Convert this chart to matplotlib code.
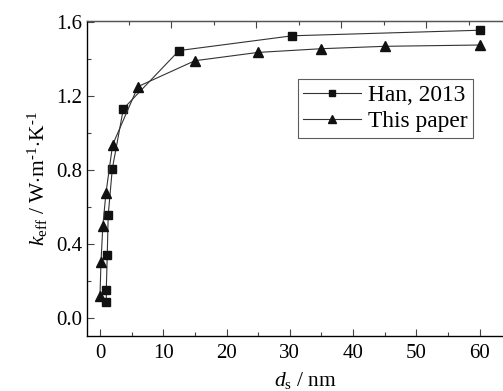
import matplotlib
matplotlib.use("Agg")
import matplotlib.pyplot as plt
from matplotlib.ticker import MultipleLocator, FormatStrFormatter

plt.rcParams["font.family"] = ["Liberation Serif", "DejaVu Serif"]
plt.rcParams["mathtext.fontset"] = "custom"
plt.rcParams["mathtext.rm"] = "Liberation Serif"
plt.rcParams["mathtext.it"] = "Liberation Serif:italic"

# Han, 2013
han_x = [1.0, 1.0, 1.15, 1.3, 1.95, 3.7, 12.5, 30.4, 60.0]
han_y = [0.083, 0.151, 0.337, 0.553, 0.805, 1.13, 1.445, 1.525, 1.555]

# This paper
paper_x = [0.0, 0.16, 0.45, 0.95, 2.0, 6.0, 15.0, 25.0, 35.0, 45.0, 60.0]
paper_y = [0.115, 0.30, 0.495, 0.675, 0.935, 1.25, 1.39, 1.435, 1.455, 1.468, 1.475]

fig = plt.figure(figsize=(5.03, 3.91), dpi=100)
ax = fig.add_axes([87 / 503, 55 / 391, 1 - 87 / 503, 315 / 391])

ax.plot(han_x, han_y, color="#333333", lw=0.8, marker="s", ms=5.5,
        mfc="#111111", mec="#111111", label="Han, 2013")
ax.plot(paper_x, paper_y, color="#333333", lw=0.8, marker="^", ms=7,
        mfc="#111111", mec="#111111", label="This paper")

ax.set_xlim(-2.05, 63.7)
ax.set_ylim(-0.1, 1.605)
ax.xaxis.set_major_locator(MultipleLocator(10))
ax.xaxis.set_minor_locator(MultipleLocator(5))
ax.yaxis.set_major_locator(MultipleLocator(0.4))
ax.yaxis.set_minor_locator(MultipleLocator(0.2))
ax.yaxis.set_major_formatter(FormatStrFormatter("%.1f"))

ax.tick_params(which="both", direction="in", labelsize=15, color="#444444")
ax.tick_params(which="major", length=5, width=0.8)
ax.tick_params(which="minor", length=3, width=0.8)
ax.tick_params(axis="x", pad=6)
ax.spines["right"].set_visible(False)
for s in ["left", "bottom", "top"]:
    ax.spines[s].set_color("#555555")
    ax.spines[s].set_linewidth(1.0)

# top axis ticks (own spacing, no labels)
top = ax.twiny()
top.set_xlim(ax.get_xlim())
top.spines["right"].set_visible(False)
top.spines["top"].set_color("#555555")
top_major = [11.25, 24.7, 38.1, 51.55]
top_minor = [4.6, 17.95, 31.4, 44.85, 58.25]
top.set_xticks(top_major)
top.set_xticks(top_minor, minor=True)
top.tick_params(which="both", direction="in", labeltop=False, color="#444444", width=0.8)
top.tick_params(which="major", length=5)
top.tick_params(which="minor", length=3)

ax.set_xlabel(r"$d_{\rm s}$ / nm", fontsize=15.5)
ax.xaxis.set_label_coords(0.525, -0.108)
ax.set_ylabel(r"$k_{\rm eff}$ / W$\cdot$m$^{\text{-1}}$$\cdot$K$^{\text{-1}}$",
              fontsize=15.5, labelpad=4)

leg = ax.legend(loc="upper right", bbox_to_anchor=((473 - 87) / 416, 1 - 58 / 315),
                fontsize=16.8, frameon=True, fancybox=False, edgecolor="#333333",
                handlelength=2.45, handletextpad=0.3, borderpad=0.25, labelspacing=0.2,
                borderaxespad=0, markerscale=0.8)
leg.get_frame().set_linewidth(0.8)

fig.savefig("out.png", dpi=100)
